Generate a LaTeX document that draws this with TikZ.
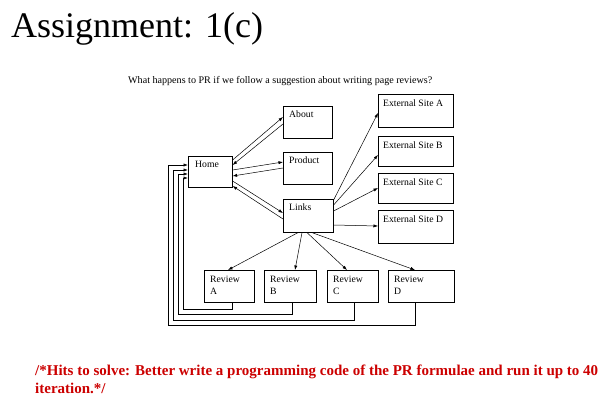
\documentclass[tikz,border=0pt]{standalone}
\usepackage{fontspec}
\setmainfont{Liberation Serif}
\usetikzlibrary{calc,arrows.meta}
\definecolor{hintred}{RGB}{204,0,0}
\begin{document}
\begin{tikzpicture}[x=1pt,y=-1pt,
  pbox/.style={draw=black,line width=0.6pt,minimum width=#1,anchor=north west,inner sep=0pt},
  lbl/.style={anchor=north west,inner sep=0pt,font=\fontsize{9.7}{12}\selectfont,align=left},
  arr/.style={draw=black,line width=0.5pt,-{Latex[length=4.5pt,width=3.2pt]}},
  fb/.style={draw=black,line width=0.6pt,-{Latex[length=4.5pt,width=3.2pt]}}]
\useasboundingbox (0,0) rectangle (603,402);
\fill[white] (0,0) rectangle (603,402);
% titles
\node[anchor=base west,inner sep=0pt,font=\fontsize{36}{42}\selectfont] (title) at (11,37) {Assignment: 1(c)};
\node[anchor=base west,inner sep=0pt,font=\fontsize{10.1}{12}\selectfont] (question) at (128,83) {What happens to PR if we follow a suggestion about writing page reviews?};
% boxes
\node[pbox=44pt,minimum height=31pt] (home) at (188,156) {};
\node[pbox=49pt,minimum height=32pt] (about) at (283,106) {};
\node[pbox=49pt,minimum height=32pt] (product) at (283,152) {};
\node[pbox=50pt,minimum height=33pt] (links) at (283,199) {};
\node[pbox=75pt,minimum height=33pt] (exta) at (378,94) {};
\node[pbox=75pt,minimum height=30pt] (extb) at (378,136) {};
\node[pbox=75pt,minimum height=30pt] (extc) at (378,173) {};
\node[pbox=75pt,minimum height=33pt] (extd) at (378,210) {};
\node[pbox=50pt,minimum height=32pt] (reva) at (204,270) {};
\node[pbox=52pt,minimum height=32pt] (revb) at (264,270) {};
\node[pbox=51pt,minimum height=32pt] (revc) at (327,270) {};
\node[pbox=66pt,minimum height=32pt] (revd) at (388,270) {};
% labels
\node[lbl] (homel) at ($(home.north west)+(7,5)$) {Home};
\node[lbl] (aboutl) at ($(about.north west)+(6,5)$) {About};
\node[lbl] (productl) at ($(product.north west)+(6,5)$) {Product};
\node[lbl] (linksl) at ($(links.north west)+(6,5)$) {Links};
\node[lbl] (extal) at ($(exta.north west)+(5,6)$) {External Site A};
\node[lbl] (extbl) at ($(extb.north west)+(5,6)$) {External Site B};
\node[lbl] (extcl) at ($(extc.north west)+(5,6)$) {External Site C};
\node[lbl] (extdl) at ($(extd.north west)+(5,6)$) {External Site D};
\node[lbl] (reval) at ($(reva.north west)+(6,6)$) {Review\\A};
\node[lbl] (revbl) at ($(revb.north west)+(6,6)$) {Review\\B};
\node[lbl] (revcl) at ($(revc.north west)+(6,6)$) {Review\\C};
\node[lbl] (revdl) at ($(revd.north west)+(6,6)$) {Review\\D};
% home <-> about / product / links
\draw[arr] ($(home.north east)+(0,4)$) -- ($(about.north west)+(0,11)$);
\draw[arr] ($(about.north west)+(0,18)$) -- ($(home.north east)+(0,9)$);
\draw[arr] ($(home.north east)+(0,14)$) -- ($(product.north west)+(0,10)$);
\draw[arr] ($(product.north west)+(0,16)$) -- ($(home.north east)+(0,20)$);
\draw[arr] ($(home.north east)+(0,25)$) -- ($(links.north west)+(0,14)$);
\draw[arr] ($(links.north west)+(0,20)$) -- ($(home.north east)+(0,30)$);
% links -> external
\draw[arr] ($(links.north east)+(0,1)$) -- ($(exta.north west)+(0,19)$);
\draw[arr] ($(links.north east)+(0,6)$) -- ($(extb.north west)+(0,19)$);
\draw[arr] ($(links.north east)+(0,12)$) -- ($(extc.north west)+(0,15)$);
\draw[arr] ($(links.north east)+(0,26)$) -- ($(extd.north west)+(0,16)$);
% links -> reviews
\draw[arr] ($(links.south west)+(15,0)$) -- ($(reva.north west)+(24,0)$);
\draw[arr] ($(links.south west)+(19,0)$) -- ($(revb.north west)+(31,0)$);
\draw[arr] ($(links.south west)+(24,0)$) -- ($(revc.north west)+(20,0)$);
\draw[arr] ($(links.south west)+(29,0)$) -- ($(revd.north west)+(27,0)$);
% reviews -> home (feedback)
\draw[fb] ($(reva.south west)+(28,0)$) -- ++(0,7) -| ($(home.north west)+(-5,22)$) -- ($(home.north west)+(0,22)$);
\draw[fb] ($(revb.south west)+(28,0)$) -- ++(0,12) -| ($(home.north west)+(-10,18)$) -- ($(home.north west)+(0,18)$);
\draw[fb] ($(revc.south west)+(27,0)$) -- ++(0,18) -| ($(home.north west)+(-15,14)$) -- ($(home.north west)+(0,14)$);
\draw[fb] ($(revd.south west)+(27,0)$) -- ++(0,23) -| ($(home.north west)+(-20,9)$) -- ($(home.north west)+(0,9)$);
% hint
\node[anchor=base west,inner sep=0pt,align=left,text=hintred,font=\fontsize{15}{18}\selectfont\bfseries] (hint) at (35,393) {/*Hits to solve: Better write a programming code of the PR formulae and run it up to 40\\iteration.*/};
\end{tikzpicture}
\end{document}
